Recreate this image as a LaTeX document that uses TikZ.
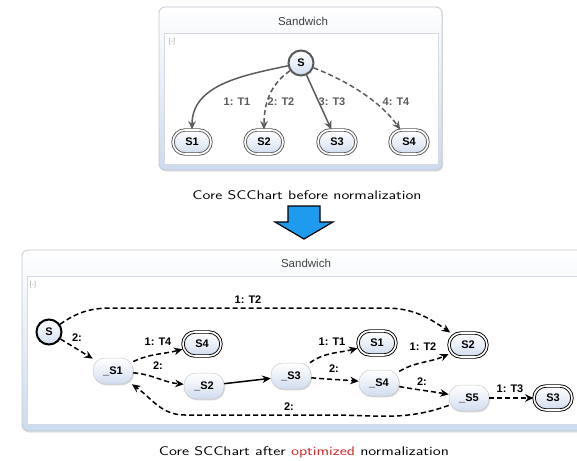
\documentclass[tikz,border=0pt]{standalone}
\usepackage{fontspec}
\usepackage{graphicx}
\usetikzlibrary{arrows.meta,shadows,calc}
\newfontfamily\diafont{Liberation Sans}
\definecolor{framebd}{HTML}{C3C8D2}
\definecolor{innerbd}{HTML}{D5DAE3}
\definecolor{framebot}{HTML}{CCDBEE}
\definecolor{nodebot}{HTML}{CFDCEF}
\definecolor{nodebd}{HTML}{5A5A5A}
\definecolor{edgegray}{HTML}{5C5C5C}
\definecolor{arrowblue}{HTML}{1E9BEF}
\definecolor{optred}{HTML}{D42222}
\tikzset{
  outerframe/.style={draw=framebd, line width=0.8pt, rounded corners=6pt,
    top color=white, bottom color=framebot,
    drop shadow={opacity=0.25, shadow xshift=1pt, shadow yshift=-1.5pt}},
  innerframe/.style={draw=innerbd, line width=0.6pt, fill=white},
  frametitle/.style={font=\diafont\fontsize{11.5}{12}\selectfont, text=black!75},
  collapse/.style={font=\diafont\fontsize{7}{8}\selectfont, text=black!35},
  basestate/.style={font=\diafont\bfseries\fontsize{11}{12}\selectfont,
    top color=white, bottom color=nodebot, middle color=nodebot!45, inner sep=0pt},
  initstate/.style={basestate, circle, minimum size=25pt},
  pillstate/.style={basestate, rectangle, rounded corners=12pt,
    minimum width=40pt, minimum height=26pt},
  softshadow/.style={drop shadow={opacity=0.3, shadow xshift=1pt, shadow yshift=-1.3pt}},
  finalstate/.style={pillstate, double, double distance=1.6pt, line width=0.9pt,
    minimum width=38pt, minimum height=24pt},
  arrowtip/.style={-{Stealth[length=8.5pt,width=7.5pt]}},
  grayedge/.style={draw=edgegray, line width=1.5pt, arrowtip},
  blackedge/.style={draw=black, line width=1.5pt, arrowtip},
  dashedge/.style={dash pattern=on 5pt off 3pt},
  toplabel/.style={font=\diafont\bfseries\fontsize{11}{12}\selectfont, text=edgegray},
  botlabel/.style={font=\diafont\bfseries\fontsize{11}{12}\selectfont, text=black},
  caption/.style={font=\sffamily, text=black}
}
\begin{document}
\begin{tikzpicture}[x=1pt,y=-1pt]
\useasboundingbox (0,0) rectangle (577,460);
\clip (0,0) rectangle (577,460);

% ---------- upper chart ----------
\path[outerframe] (159,7) rectangle (442,170);
\path[innerframe] (164,33) rectangle (438,164);
\node[frametitle] (ttitle) at (303,21) {Sandwich};
\node[collapse] (tcol) at (172,42) {[-]};

\node[initstate, draw=nodebd, line width=2pt] (tS) at (301,63) {S};
\node[finalstate, draw=nodebd] (tS1) at (192,142) {S1};
\node[finalstate, draw=nodebd] (tS2) at (264,142) {S2};
\node[finalstate, draw=nodebd] (tS3) at (337,142) {S3};
\node[finalstate, draw=nodebd] (tS4) at (409,142) {S4};

\draw[grayedge] (tS) to[out=192,in=90] (tS1);
\draw[grayedge, dashedge] (tS) to[out=215,in=90] (tS2);
\draw[grayedge] (tS) -- (tS3);
\draw[grayedge, dashedge] (tS) .. controls (340,78) and (378,98) .. (tS4);

\node[toplabel] (tl1) at (237,102) {1: T1};
\node[toplabel] (tl2) at (281,102) {2: T2};
\node[toplabel] (tl3) at (332,102) {3: T3};
\node[toplabel] (tl4) at (396,102) {4: T4};

\node[caption] (cap1) at (307,195)
  {\resizebox{229pt}{\height}{\fontsize{12.5}{14}\selectfont Core SCChart before normalization}};

% ---------- transformation arrow ----------
\draw[fill=arrowblue, draw=black, line width=1.2pt, line join=miter]
  (288,206) -- (320,206) -- (320,222) -- (333,222) -- (304,239)
  -- (275,222) -- (288,222) -- cycle;

% ---------- lower chart ----------
\path[outerframe] (22,250) rectangle (610,431);
\path[innerframe] (27,276) rectangle (605,424);
\node[frametitle] (btitle) at (306,263) {Sandwich};
\node[collapse] (bcol) at (33,285) {[-]};

\node[initstate, draw=black, line width=2pt] (S) at (49,332) {S};
\node[pillstate, draw=black!20, line width=0.5pt, softshadow] (bS1) at (113,371) {\_S1};
\node[finalstate, draw=black] (S4) at (202,344) {S4};
\node[pillstate, draw=black!20, line width=0.5pt, softshadow] (bS2) at (204,386) {\_S2};
\node[pillstate, draw=black!20, line width=0.5pt, softshadow] (bS3) at (291,376) {\_S3};
\node[finalstate, draw=black] (S1) at (377,343) {S1};
\node[pillstate, draw=black!20, line width=0.5pt, softshadow] (bS4) at (379,383) {\_S4};
\node[finalstate, draw=black] (S2) at (468,345) {S2};
\node[pillstate, draw=black!20, line width=0.5pt, softshadow] (bS5) at (469,398) {\_S5};
\node[finalstate, draw=black] (S3) at (553,398) {S3};

\coordinate (u1) at (112,308);
\coordinate (u2) at (385,308);
\coordinate (d1) at (330,415);
\coordinate (d2) at (185,415);

\draw[blackedge, dashedge] (S) to[out=35,in=180] (u1) -- (u2) to[out=0,in=145] (S2);
\draw[blackedge, dashedge] (S) -- (bS1);
\draw[blackedge, dashedge] (bS1) to[out=25,in=195] (S4);
\draw[blackedge, dashedge] (bS1) to[out=-5,in=175] (bS2);
\draw[blackedge] (bS2) -- (bS3);
\draw[blackedge, dashedge] (bS3) to[out=35,in=195] (S1);
\draw[blackedge, dashedge] (bS3) to[out=-5,in=175] (bS4);
\draw[blackedge, dashedge] (bS4) to[out=30,in=205] (S2);
\draw[blackedge, dashedge] (bS4) to[out=-10,in=170] (bS5);
\draw[blackedge, dashedge] (bS5) -- (S3);
\draw[blackedge, dashedge] (bS5) to[out=200,in=0] (d1) -- (d2) to[out=180,in=-35] (bS1);

\node[botlabel] (l1) at (248,300) {1: T2};
\node[botlabel] (l2) at (77,338) {2:};
\node[botlabel] (l3) at (158,342) {1: T4};
\node[botlabel] (l4) at (158,366) {2:};
\node[botlabel] (l5) at (332,342) {1: T1};
\node[botlabel] (l6) at (334,369) {2:};
\node[botlabel] (l7) at (423,347) {1: T2};
\node[botlabel] (l8) at (422,382) {2:};
\node[botlabel] (l9) at (510,389) {1: T3};
\node[botlabel] (l10) at (289,407) {2:};

\node[caption] (cap2) at (304,452)
  {\resizebox{290pt}{\height}{\fontsize{12.5}{14}\selectfont Core SCChart after \textcolor{optred}{optimized} normalization}};
\end{tikzpicture}
\end{document}
